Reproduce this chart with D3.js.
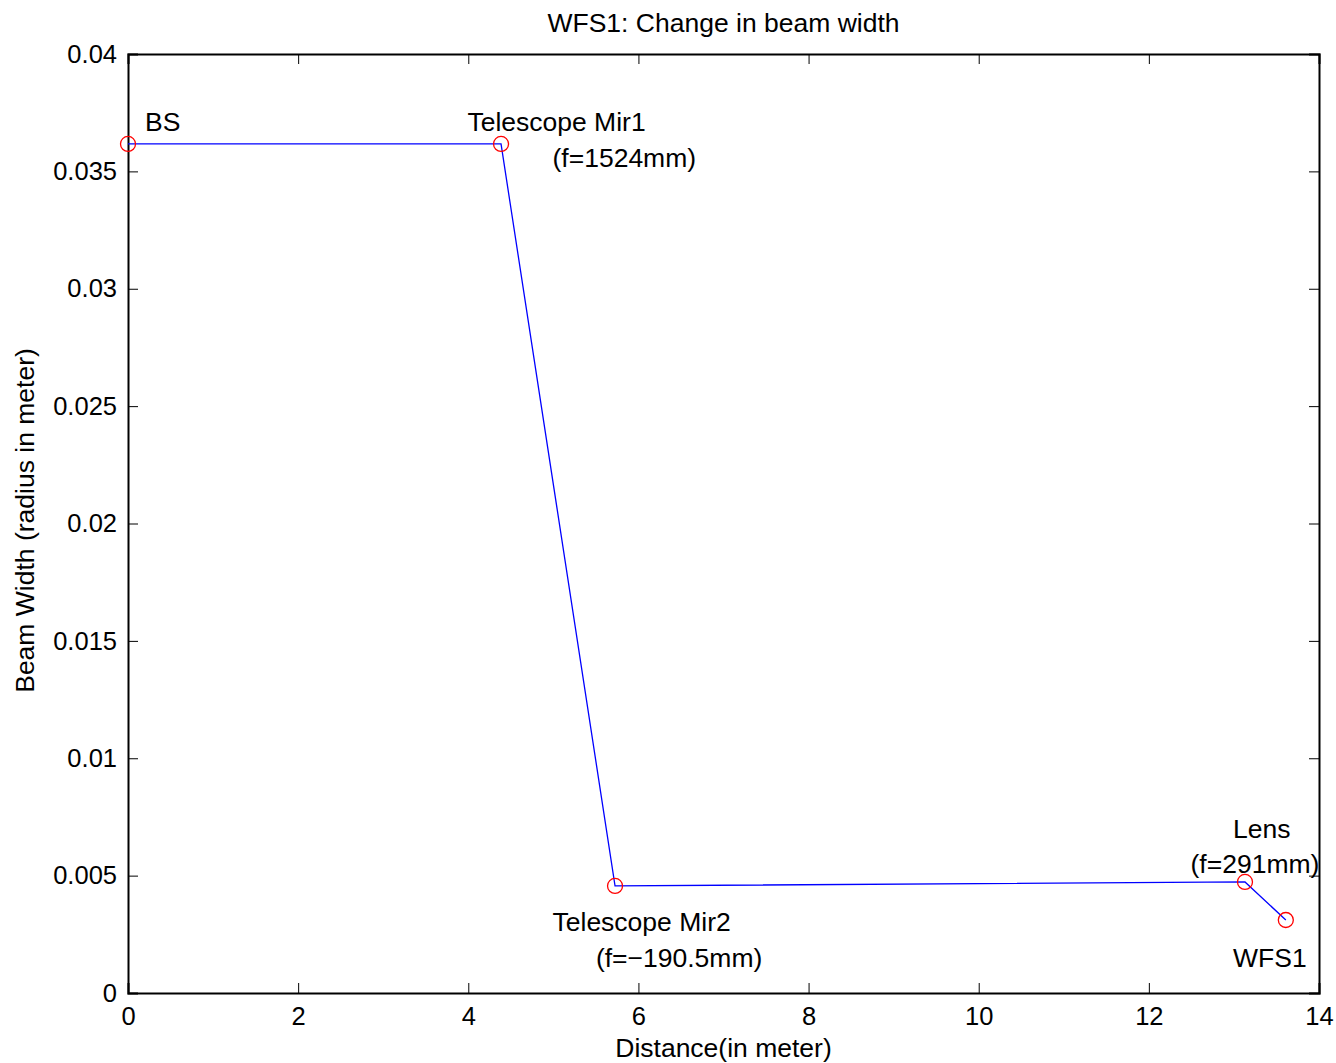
<!DOCTYPE html>
<html>
<head>
<meta charset="utf-8">
<script src="https://cdn.jsdelivr.net/npm/d3@7"></script>
<style>
  body { margin: 0; background: #fff; }
  text { font-family: "Liberation Sans", Arial, sans-serif; fill: #000; }
</style>
</head>
<body>
<div id="chart"></div>
<script>
// beam path points
var distance = [0, 4.385, 5.725, 13.13, 13.61];
var beamWidth = [0.03617, 0.03617, 0.00456, 0.00473, 0.00311];

// annotation text, placed in data coords
var labelText = ["BS", "Telescope Mir1", "(f=1524mm)", "Telescope Mir2", "(f=\u2212190.5mm)", "Lens", "(f=291mm)", "WFS1"];
var labelX = [0.2, 3.99, 4.99, 4.99, 5.5, 12.99, 12.49, 12.99];
var labelY = [0.0367, 0.0367, 0.0352, 0.00265, 0.00112, 0.00660, 0.00510, 0.00112];

var xTicks = [0, 2, 4, 6, 8, 10, 12, 14];
var yTicks = [0, 0.005, 0.01, 0.015, 0.02, 0.025, 0.03, 0.035, 0.04];

var margin = {top: 54, right: 17, bottom: 70, left: 128},
    width = 1336 - margin.left - margin.right,
    height = 1063 - margin.top - margin.bottom;

var svg = d3.select("#chart")
  .append("svg")
    .attr("width", 1336)
    .attr("height", 1063)
  .append("g")
    .attr("transform", "translate(" + margin.left + "," + margin.top + ")");

var x = d3.scaleLinear().domain([0, 14]).range([0, width]);
var y = d3.scaleLinear().domain([0, 0.04]).range([height, 0]);

// axes with inward ticks, mirrored on top and right
svg.append("g")
  .attr("transform", `translate(0, ${height})`)
  .call(d3.axisBottom(x).tickValues(xTicks).tickSize(-10).tickPadding(14).tickFormat(d3.format("d")));
svg.append("g")
  .call(d3.axisTop(x).tickValues(xTicks).tickSize(-10).tickFormat(""));
svg.append("g")
  .call(d3.axisLeft(y).tickValues(yTicks).tickSize(-10).tickPadding(11).tickFormat(d => d === 0 ? "0" : d3.format("")(d)));
svg.append("g")
  .attr("transform", `translate(${width}, 0)`)
  .call(d3.axisRight(y).tickValues(yTicks).tickSize(-10).tickFormat(""));

svg.selectAll(".domain").attr("stroke", "#000").attr("stroke-width", 2);
svg.selectAll(".tick line").attr("stroke", "#000").attr("stroke-width", 1);
svg.selectAll(".tick text").style("font-size", "25.5px").style("font-family", "Liberation Sans, Arial, sans-serif").attr("fill", "#000");

var pts = distance.map((d, i) => [d, beamWidth[i]]);

svg.append("path")
  .datum(pts)
  .attr("fill", "none")
  .attr("stroke", "#0000ff")
  .attr("stroke-width", 1.3)
  .attr("d", d3.line().x(d => x(d[0])).y(d => y(d[1])));

svg.selectAll("circle.pt")
  .data(pts)
  .join("circle")
    .attr("class", "pt")
    .attr("cx", d => x(d[0]))
    .attr("cy", d => y(d[1]))
    .attr("r", 7.5)
    .attr("fill", "none")
    .attr("stroke", "#ff0000")
    .attr("stroke-width", 1.3);

svg.selectAll("text.lbl")
  .data(labelText)
  .join("text")
    .attr("class", "lbl")
    .attr("x", (d, i) => x(labelX[i]))
    .attr("y", (d, i) => y(labelY[i]))
    .style("font-size", "26.5px")
    .text(d => d);

// title and axis labels
svg.append("text")
  .attr("x", width / 2)
  .attr("y", -22)
  .attr("text-anchor", "middle")
  .style("font-size", "26.5px")
  .text("WFS1: Change in beam width");

svg.append("text")
  .attr("x", width / 2)
  .attr("y", height + 64)
  .attr("text-anchor", "middle")
  .style("font-size", "26.5px")
  .text("Distance(in meter)");

svg.append("text")
  .attr("transform", `translate(-94, ${height / 2 - 3}) rotate(-90)`)
  .attr("text-anchor", "middle")
  .style("font-size", "26.5px")
  .text("Beam Width (radius in meter)");
</script>
</body>
</html>
